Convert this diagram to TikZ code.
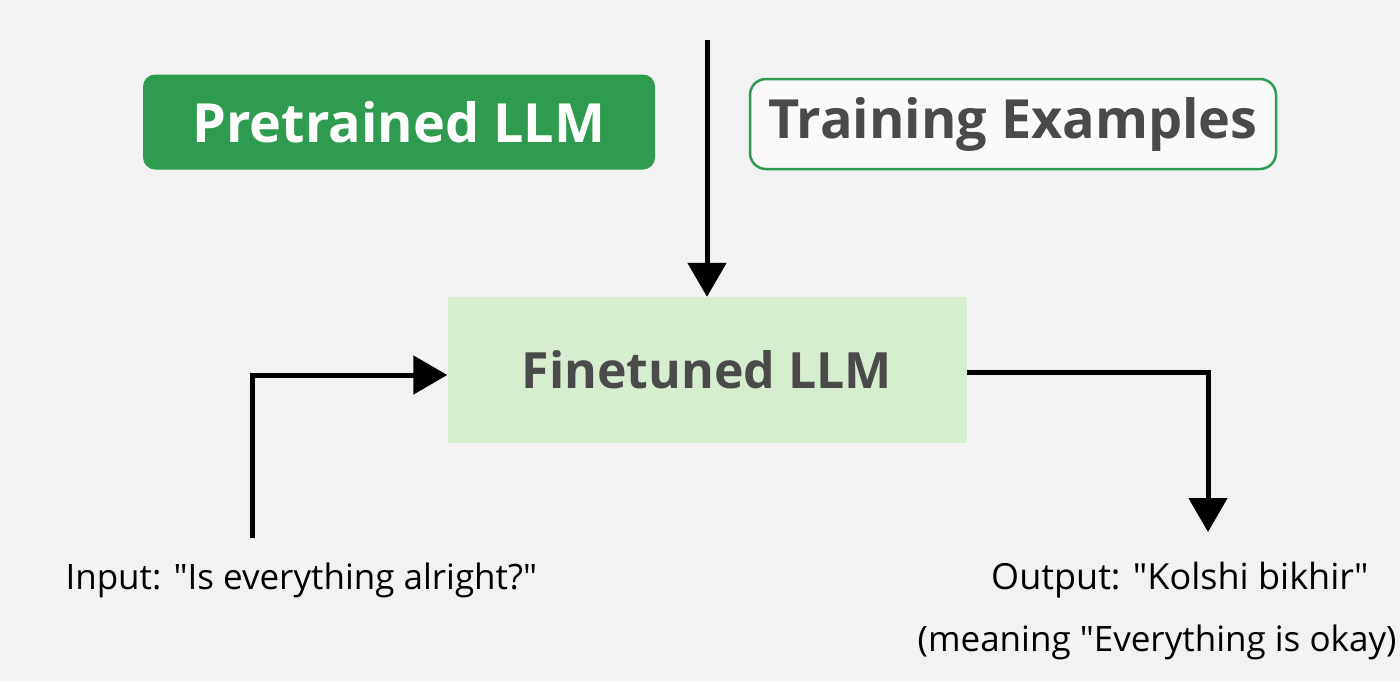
\documentclass[tikz,border=0pt]{standalone}
\usepackage{fontspec}
\setmainfont{Open Sans}[BoldFont={Open Sans Bold}]
\usetikzlibrary{arrows.meta,positioning}
\definecolor{bg}{HTML}{F2F2F2}
\definecolor{llmgreen}{HTML}{2E9B4E}
\definecolor{palegreen}{HTML}{D6EDD0}
\definecolor{txtgray}{HTML}{4A4A4A}
\tikzset{>={Triangle[length=34pt,width=38pt]}}
\tikzset{flow/.style={line width=5pt, ->}}

\begin{document}
\begin{tikzpicture}[x=1pt,y=-1pt]
\fill[bg] (0,0) rectangle (1400,681);
\useasboundingbox (0,0) rectangle (1400,681);
\node[fill=llmgreen, rounded corners=12pt, minimum width=512pt, minimum height=95pt,
  text=white, font=\fontsize{54}{60}\selectfont\bfseries] (pre) at (399,122) {Pretrained LLM};
\node[draw=llmgreen, line width=2.5pt, fill=white!60!bg, rounded corners=16pt, minimum width=526pt,
  minimum height=90pt, text=txtgray, font=\fontsize{54}{60}\selectfont\bfseries] (train) at (1013,124) {Training Examples};
\node[fill=palegreen, minimum width=519pt, minimum height=146pt,
  text=txtgray, font=\fontsize{50}{56}\selectfont\bfseries] (fine) at (707,370) {Finetuned LLM};
\coordinate (top) at (707,40);
\draw[flow] (top) -- (fine.north);
\coordinate (inp) at (252,538);
\coordinate (outp) at (1208,532);
\draw[flow] (inp) |- (fine.west |- 0,375);
\draw[flow] (fine.east |- 0,372) -| (outp);
\node[font=\fontsize{35}{40}\selectfont, anchor=west] (intext) at (62,580) {Input: \textquotedbl Is everything alright?\textquotedbl};
\node[font=\fontsize{36}{40}\selectfont, anchor=east] (outtext) at (1372,580) {Output: \textquotedbl Kolshi bikhir\textquotedbl};
\node[font=\fontsize{35}{40}\selectfont, anchor=east] (mean) at (1400,642) {(meaning \textquotedbl Everything is okay)};
\end{tikzpicture}
\end{document}
